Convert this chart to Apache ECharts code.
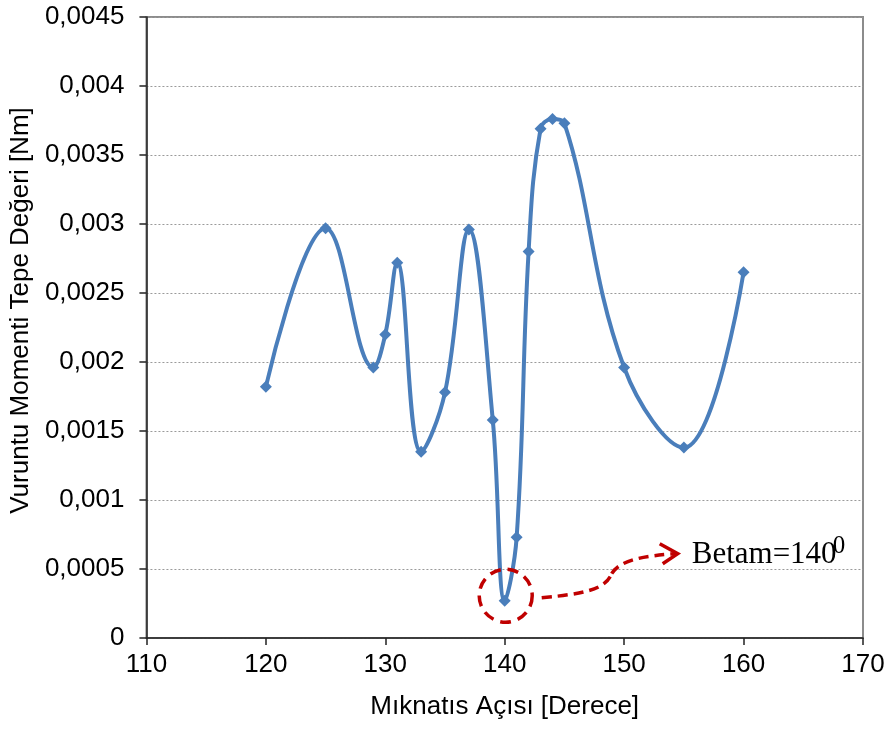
<!DOCTYPE html>
<html>
<head>
<meta charset="utf-8">
<script src="https://cdn.jsdelivr.net/npm/echarts@6/dist/echarts.min.js"></script>
<style>
  html, body { margin: 0; padding: 0; background: #ffffff; }
  #chart { width: 892px; height: 729px; }
</style>
</head>
<body>
<div id="chart"></div>
<script>
// Magnet angle (degrees) and peak cogging torque (Nm)
const angles = [120, 125, 129, 130, 131, 133, 135, 137, 139, 140, 141, 142, 143, 144, 145, 150, 155, 160];
const torque = [0.00182, 0.00297, 0.00196, 0.00220, 0.00272, 0.00135, 0.00178, 0.00296, 0.00158,
                0.00027, 0.00073, 0.00280, 0.00369, 0.00376, 0.00373, 0.00196, 0.00138, 0.00265];
const yTickLabels = ['0', '0,0005', '0,001', '0,0015', '0,002', '0,0025', '0,003', '0,0035', '0,004', '0,0045'];
const optimumAngle = 140;
const optimumText = 'Betam=140';
const optimumSup = '0';

const points = angles.map((a, i) => [a, torque[i]]);

const chart = echarts.init(document.getElementById('chart'), null, { renderer: 'canvas' });

const axisFont = { fontFamily: '"Liberation Sans", Arial, sans-serif', fontSize: 26, color: '#000' };

chart.setOption({
  animation: false,
  backgroundColor: '#ffffff',
  grid: {
    left: 146, right: 29, top: 17, bottom: 91,
    show: true, borderColor: '#8c8c8c', borderWidth: 2, backgroundColor: 'transparent'
  },
  xAxis: {
    type: 'value', min: 110, max: 170, interval: 10,
    name: 'Mıknatıs Açısı [Derece]', nameLocation: 'middle', nameGap: 56,
    nameTextStyle: axisFont,
    axisLine: { show: true, onZero: false, lineStyle: { color: '#222', width: 1.5 } },
    axisTick: { show: true, inside: false, length: 7, lineStyle: { color: '#222', width: 1.5 } },
    axisLabel: Object.assign({ margin: 14 }, axisFont),
    splitLine: { show: false }
  },
  yAxis: {
    type: 'value', min: 0, max: 0.0045, interval: 0.0005,
    name: 'Vuruntu Momenti Tepe Değeri [Nm]', nameLocation: 'middle', nameGap: 108,
    nameTextStyle: Object.assign({ padding: [0, 0, 0, 34] }, axisFont),
    axisLine: { show: true, lineStyle: { color: '#222', width: 1.5 } },
    axisTick: { show: true, inside: false, length: 7, lineStyle: { color: '#222', width: 1.5 } },
    axisLabel: Object.assign({
      margin: 22,
      formatter: (v, i) => yTickLabels[i]
    }, axisFont),
    splitLine: { show: true, lineStyle: { color: '#9a9a9a', width: 1, type: [2, 2] } }
  },
  series: [{
    type: 'line',
    data: points,
    smooth: 0.4,
    lineStyle: { color: '#4a7ebb', width: 4 },
    symbol: 'diamond',
    symbolSize: 12,
    itemStyle: { color: '#4a7ebb' },
    z: 3
  }]
});

// Callout marking the minimum-torque angle
const idx = angles.indexOf(optimumAngle);
const [px, py] = chart.convertToPixel({ gridIndex: 0 }, [optimumAngle, torque[idx]]);
const red = '#c00000';
const dashStyle = { fill: 'none', stroke: red, lineWidth: 3.5, lineDash: [10, 6] };
chart.setOption({
  graphic: [
    {
      type: 'circle', z: 10,
      shape: { cx: px + 1, cy: py - 5, r: 26.5 },
      style: { fill: 'none', stroke: red, lineWidth: 3.5, lineDash: [11, 7] }
    },
    {
      type: 'bezierCurve', z: 10,
      shape: {
        x1: px + 37, y1: py - 3,
        cpx1: px + 80, cpy1: py - 7,
        cpx2: px + 100, cpy2: py - 11,
        x2: px + 107, y2: py - 27
      },
      style: dashStyle
    },
    {
      type: 'bezierCurve', z: 10,
      shape: {
        x1: px + 107, y1: py - 27,
        cpx1: px + 115, cpy1: py - 41,
        cpx2: px + 140, cpy2: py - 45,
        x2: px + 171, y2: py - 47
      },
      style: dashStyle
    },
    {
      type: 'polyline', z: 10,
      shape: { points: [[px + 155, py - 57], [px + 173, py - 47], [px + 158, py - 37]] },
      style: { fill: 'none', stroke: red, lineWidth: 3.5 }
    },
    {
      type: 'text', z: 10,
      x: px + 187, y: py - 45.5,
      style: {
        text: optimumText, fill: '#000',
        font: '31px "Liberation Serif", "Times New Roman", serif',
        textAlign: 'left', textVerticalAlign: 'middle'
      }
    },
    {
      type: 'text', z: 10,
      x: px + 328, y: py - 54.5,
      style: {
        text: optimumSup, fill: '#000',
        font: '25px "Liberation Serif", "Times New Roman", serif',
        textAlign: 'left', textVerticalAlign: 'middle'
      }
    }
  ]
});
</script>
</body>
</html>
